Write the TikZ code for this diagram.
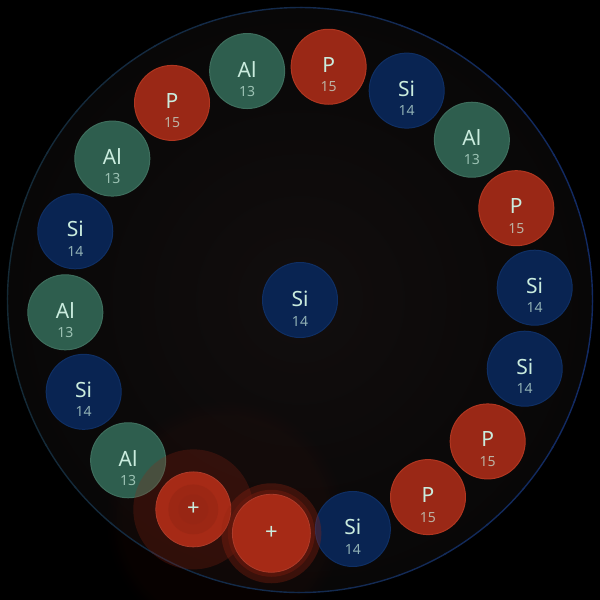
\documentclass[tikz,border=0pt]{standalone}
\usepackage{fontspec}
\setmainfont{Noto Sans}
\usetikzlibrary{fadings}
\definecolor{bgc}{RGB}{0,0,0}
\definecolor{discin}{RGB}{18,14,14}
\definecolor{discout}{RGB}{8,7,7}
\definecolor{ringR}{RGB}{18,42,100}
\definecolor{ringL}{RGB}{20,42,54}
\definecolor{alfill}{RGB}{46,94,78}
\definecolor{aledge}{RGB}{62,110,93}
\definecolor{pfill}{RGB}{154,40,22}
\definecolor{pedge}{RGB}{176,54,32}
\definecolor{sifill}{RGB}{9,36,82}
\definecolor{siedge}{RGB}{15,47,100}
\definecolor{txt}{RGB}{202,236,222}
\definecolor{plusfill}{RGB}{166,42,22}
\definecolor{plusdark}{RGB}{150,38,20}
\definecolor{halo}{RGB}{150,36,18}
\begin{document}
\begin{tikzpicture}[x=1pt,y=-1pt,
  atom/.style={circle, minimum size=75pt, inner sep=0pt, line width=1pt},
  al/.style={atom, fill=alfill, draw=aledge},
  p/.style={atom, fill=pfill, draw=pedge},
  si/.style={atom, fill=sifill, draw=siedge},
  sym/.style={inner sep=0pt, text=txt, font=\fontsize{21}{21}\selectfont},
  num/.style={inner sep=0pt, text=txt, text opacity=0.7, font=\fontsize{14}{14}\selectfont},
  plus/.style={inner sep=0pt, text=txt, font=\fontsize{22}{22}\selectfont}]
\useasboundingbox (0,0) rectangle (600,600);
\fill[bgc] (0,0) rectangle (600,600);
\coordinate (c) at (300,300);
\fill[inner color=discin, outer color=discout] (c) circle (292.5);
\fill[halo, opacity=0.05, path fading=circle with fuzzy edge 15 percent] (225,520) circle (120);
% outer ring
\foreach \k in {0,...,35}{
  \pgfmathtruncatemacro\p{50+50*cos(\k*10+5)}
  \draw[ringR!\p!ringL, line width=1.4pt] ([shift={(300,300)}]\k*10:292.5) arc[start angle=\k*10, end angle=\k*10+10.5, radius=292.5];
}
% atoms on the ring
\foreach \a/\t/\s/\n [count=\i] in {103/al/Al/13, 83/p/P/15, 63/si/Si/14, 43/al/Al/13, 23/p/P/15, 3/si/Si/14, -17/si/Si/14, -37/p/P/15, -57/p/P/15, -77/si/Si/14, -137/al/Al/13, -157/si/Si/14, -177/al/Al/13, 163/si/Si/14, 143/al/Al/13, 123/p/P/15}{
  \node[\t] (n\i) at ([shift={(300,300)}]-\a:235) {};
  \node[sym] (s\i) at ([yshift=2pt]n\i.center) {\s};
  \node[num] (z\i) at ([yshift=-20pt]n\i.center) {\n};
}
% centre atom
\node[si] (m) at (c) {};
\node[sym] (ms) at ([yshift=1pt]m.center) {Si};
\node[num] (mz) at ([yshift=-21pt]m.center) {14};
% highlighted atoms
\node[circle, minimum size=120pt, inner sep=0pt, fill=halo, fill opacity=0.25] (h1) at ([shift={(300,300)}]117:235) {};
\node[circle, minimum size=75pt, inner sep=0pt, fill=plusfill, draw=plusfill!92!white, line width=0.8pt] (q1) at (h1.center) {};
\node[circle, minimum size=50pt, inner sep=0pt, fill=plusdark, fill opacity=0.6] (q1b) at (h1.center) {};
\node[circle, minimum size=30pt, inner sep=0pt, fill=plusdark, fill opacity=0.5] (q1c) at (h1.center) {};
\node[plus] (t1) at (h1.center) {+};
\node[circle, minimum size=100pt, inner sep=0pt, fill=halo, fill opacity=0.32] (h2) at ([shift={(300,300)}]97:235) {};
\node[circle, minimum size=87pt, inner sep=0pt, fill=halo!70!black, fill opacity=0.6] (q2a) at (h2.center) {};
\node[circle, minimum size=78pt, inner sep=0pt, fill=plusfill, draw=plusfill!92!white, line width=0.8pt] (q2) at (h2.center) {};
\node[plus] (t2) at (h2.center) {+};
\end{tikzpicture}
\end{document}
